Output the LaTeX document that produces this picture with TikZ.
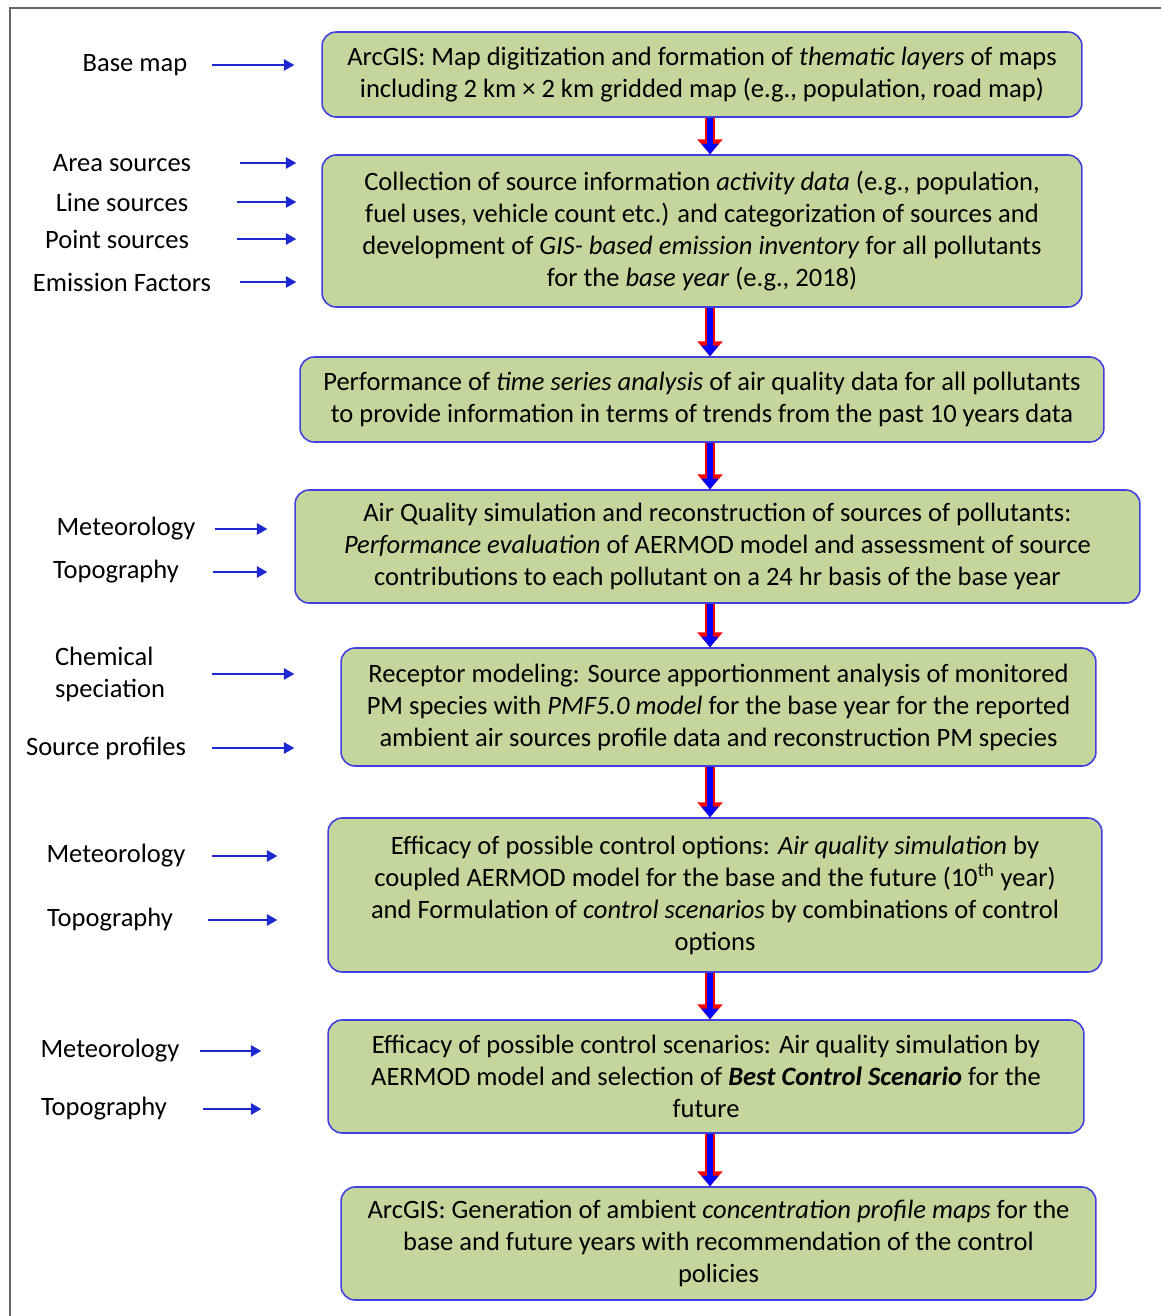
\documentclass[tikz,border=0pt]{standalone}
\usepackage{fontspec}
\setmainfont{Carlito}
\usepackage{xcolor}
\usetikzlibrary{arrows.meta,positioning}

\definecolor{boxgreen}{RGB}{196,214,155}
\definecolor{boxblue}{RGB}{64,64,225}
\definecolor{feedblue}{RGB}{30,40,210}

\begin{document}
\begin{tikzpicture}[
    x=0.02cm, y=-0.02cm,
    every node/.style={font=\fontsize{15.1}{18.2}\selectfont},
    block/.style={rectangle, draw=boxblue, line width=0.9pt, fill=boxgreen,
                  align=center, rounded corners=0.28cm, inner sep=2pt,
                  execute at begin node={\rule{0pt}{17pt}}},
    input/.style={align=center, inner sep=0pt, minimum height=0.6cm},
    feed/.style={-{Triangle[length=6pt,width=6.5pt]}, line width=1.1pt, feedblue},
    flow/.style={-{Triangle[length=6pt,width=9.5pt]}, line width=3.4pt, blue,
                 preaction={draw=red, line width=5.8pt, -{Triangle[length=8.5pt,width=14pt]}}},
]
\useasboundingbox (0,0) rectangle (1161,1316);
% outer frame
\draw[gray!80!black, line width=0.8pt] (10,1316) -- (10,8) -- (1161,8);

% main chain
\node[block, minimum width=15.2cm, minimum height=1.7cm] (gis) at (702,74.5)
  {ArcGIS: Map digitization and formation of \textit{thematic layers} of maps\\
   including 2 km × 2 km gridded map (e.g., population, road map)};
\node[block, minimum width=15.2cm, minimum height=3.04cm] (inventory) at (702,231)
  {Collection of source information \textit{activity data} (e.g., population,\\
   fuel uses, vehicle count etc.) and categorization of sources and\\
   development of \textit{GIS- based emission inventory} for all pollutants\\
   for the \textit{base year} (e.g., 2018)};
\node[block, minimum width=16.08cm, minimum height=1.7cm] (trend) at (702,399.5)
  {Performance of \textit{time series analysis} of air quality data for all pollutants\\
   to provide information in terms of trends from the past 10 years data};
\node[block, minimum width=16.9cm, minimum height=2.26cm] (aermod) at (717.5,546.5)
  {Air Quality simulation and reconstruction of sources of pollutants:\\
   \textit{Performance evaluation} of AERMOD model and assessment of source\\
   contributions to each pollutant on a 24 hr basis of the base year};
\node[block, minimum width=15.1cm, minimum height=2.36cm] (receptor) at (718.5,707)
  {Receptor modeling: Source apportionment analysis of monitored\\
   PM species with \textit{PMF5.0 model} for the base year for the reported\\
   ambient air sources profile data and reconstruction PM species};
\node[block, minimum width=15.48cm, minimum height=3.08cm] (options) at (715,895)
  {Efficacy of possible control options: \textit{Air quality simulation} by\\
   coupled AERMOD model for the base and the future (10\textsuperscript{th} year)\\
   and Formulation of \textit{control scenarios} by combinations of control\\
   options};
\node[block, minimum width=15.12cm, minimum height=2.26cm] (scenario) at (706,1076.5)
  {Efficacy of possible control scenarios: Air quality simulation by\\
   AERMOD model and selection of \textbf{\textit{Best Control Scenario}} for the\\
   future};
\node[block, minimum width=15.1cm, minimum height=2.26cm] (maps) at (718.5,1243.5)
  {ArcGIS: Generation of ambient \textit{concentration profile maps} for the\\
   base and future years with recommendation of the control\\
   policies};

\coordinate (spine) at (710,0);
\draw[flow] (gis.south -| spine) -- (inventory.north -| spine);
\draw[flow] (inventory.south -| spine) -- (trend.north -| spine);
\draw[flow] (trend.south -| spine) -- (aermod.north -| spine);
\draw[flow] (aermod.south -| spine) -- (receptor.north -| spine);
\draw[flow] (receptor.south -| spine) -- (options.north -| spine);
\draw[flow] (options.south -| spine) -- (scenario.north -| spine);
\draw[flow] (scenario.south -| spine) -- (maps.north -| spine);

% inputs on the left
\node[input, minimum width=3.08cm] (basemap) at (135,65) {Base map};
\node[input, minimum width=4.72cm] (area) at (122,163) {Area sources};
\node[input, minimum width=4.6cm] (line) at (122,202) {Line sources};
\node[input, minimum width=4.8cm] (point) at (117,239) {Point sources};
\node[input, minimum width=4.72cm] (factors) at (122,282) {Emission Factors};
\node[input, minimum width=3.56cm] (met1) at (126,529) {Meteorology};
\node[input, minimum width=3.88cm] (topo1) at (116,572) {Topography};
\node[input, minimum width=4.08cm, align=left] (chem) at (110,674) {Chemical\\speciation};
\node[input, minimum width=4.24cm] (profiles) at (106,748) {Source profiles};
\node[input, minimum width=3.84cm] (met2) at (116,856) {Meteorology};
\node[input, minimum width=3.92cm] (topo2) at (110,920) {Topography};
\node[input, minimum width=3.6cm] (met3) at (110,1051) {Meteorology};
\node[input, minimum width=3.96cm] (topo3) at (104,1109) {Topography};

\draw[feed, shorten >=0.54cm] (basemap) -- (basemap -| gis.west);
\draw[feed, shorten >=0.5cm] (area) -- (area -| inventory.west);
\draw[feed, shorten >=0.5cm] (line) -- (line -| inventory.west);
\draw[feed, shorten >=0.5cm] (point) -- (point -| inventory.west);
\draw[feed, shorten >=0.5cm] (factors) -- (factors -| inventory.west);
\draw[feed, shorten >=0.54cm] (met1) -- (met1 -| aermod.west);
\draw[feed, shorten >=0.54cm] (topo1) -- (topo1 -| aermod.west);
\draw[feed, shorten >=0.92cm] (chem) -- (chem -| receptor.west);
\draw[feed, shorten >=0.92cm] (profiles) -- (profiles -| receptor.west);
\draw[feed, shorten >=1.0cm] (met2) -- (met2 -| options.west);
\draw[feed, shorten >=1.0cm] (topo2) -- (topo2 -| options.west);
\draw[feed, shorten >=1.32cm] (met3) -- (met3 -| scenario.west);
\draw[feed, shorten >=1.32cm] (topo3) -- (topo3 -| scenario.west);
\end{tikzpicture}
\end{document}
